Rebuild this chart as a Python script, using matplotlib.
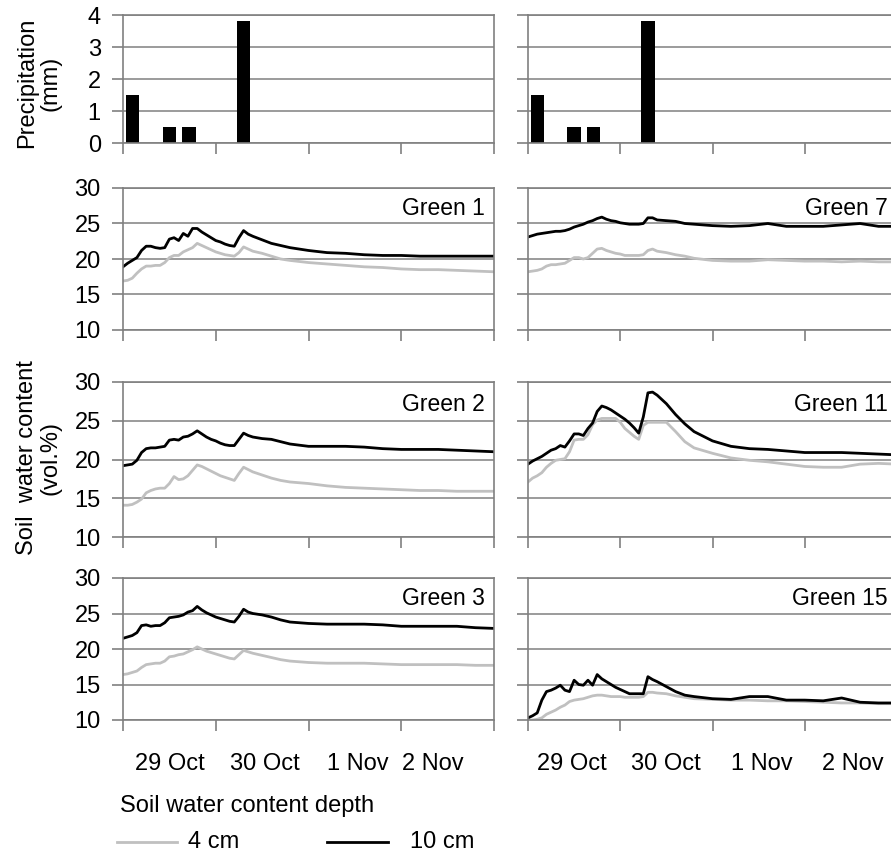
import matplotlib
matplotlib.use("Agg")
import matplotlib.pyplot as plt
from matplotlib.lines import Line2D

plt.rcParams['font.family'] = ['Liberation Sans', 'DejaVu Sans']
plt.rcParams['font.size'] = 17

# time axis in chart units (one major tick interval = 1)
t = [0, 0.05, 0.1, 0.15, 0.2, 0.25, 0.3, 0.35, 0.4, 0.45, 0.5, 0.55, 0.6, 0.65,
     0.7, 0.75, 0.8, 0.85, 0.9, 0.95, 1.0, 1.05, 1.1, 1.15, 1.2, 1.25, 1.3, 1.35,
     1.4, 1.5, 1.6, 1.7, 1.8, 2.0, 2.2, 2.4, 2.6, 2.8, 3.0, 3.2, 3.4, 3.6, 3.8, 4.0]

# precipitation (mm)
rain_t = [0.10, 0.50, 0.71, 1.30]
rain_mm = [1.5, 0.5, 0.5, 3.8]

# soil water content (vol.%), 4 cm and 10 cm depth
g1_4 = [16.9, 17.0, 17.3, 18.0, 18.6, 19.0, 19.0, 19.1, 19.1, 19.5, 20.2, 20.5, 20.5, 21.0,
        21.3, 21.6, 22.2, 21.9, 21.6, 21.3, 21.0, 20.8, 20.6, 20.5, 20.4, 20.9, 21.7, 21.4,
        21.1, 20.8, 20.4, 20.0, 19.8, 19.5, 19.3, 19.1, 18.9, 18.8, 18.6, 18.5, 18.5, 18.4, 18.3, 18.2]
g1_10 = [18.9, 19.4, 19.8, 20.2, 21.2, 21.8, 21.8, 21.6, 21.5, 21.6, 22.8, 23.0, 22.6, 23.6,
         23.2, 24.3, 24.3, 23.8, 23.4, 23.0, 22.6, 22.4, 22.1, 21.9, 21.8, 23.0, 24.0, 23.5,
         23.2, 22.7, 22.2, 21.9, 21.6, 21.2, 20.9, 20.8, 20.6, 20.5, 20.5, 20.4, 20.4, 20.4, 20.4, 20.4]

g2_4 = [14.1, 14.1, 14.2, 14.5, 14.9, 15.7, 16.0, 16.2, 16.3, 16.3, 16.9, 17.8, 17.4, 17.5,
        17.9, 18.6, 19.3, 19.1, 18.8, 18.5, 18.2, 17.9, 17.7, 17.5, 17.3, 18.2, 19.0, 18.7,
        18.4, 18.0, 17.6, 17.3, 17.1, 16.9, 16.6, 16.4, 16.3, 16.2, 16.1, 16.0, 16.0, 15.9, 15.9, 15.9]
g2_10 = [19.2, 19.3, 19.4, 19.9, 20.9, 21.4, 21.5, 21.5, 21.6, 21.7, 22.5, 22.6, 22.5, 22.9,
         23.0, 23.3, 23.7, 23.3, 22.9, 22.6, 22.4, 22.1, 21.9, 21.8, 21.8, 22.6, 23.4, 23.1,
         22.9, 22.7, 22.6, 22.3, 22.0, 21.7, 21.7, 21.7, 21.6, 21.4, 21.3, 21.3, 21.3, 21.2, 21.1, 21.0]

g3_4 = [16.4, 16.5, 16.7, 16.9, 17.4, 17.8, 17.9, 18.0, 18.0, 18.3, 18.9, 19.0, 19.2, 19.3,
        19.6, 19.9, 20.3, 20.0, 19.7, 19.5, 19.3, 19.1, 18.9, 18.7, 18.6, 19.2, 19.8, 19.6,
        19.4, 19.1, 18.8, 18.5, 18.3, 18.1, 18.0, 18.0, 18.0, 17.9, 17.8, 17.8, 17.8, 17.8, 17.7, 17.7]
g3_10 = [21.5, 21.7, 21.9, 22.3, 23.3, 23.4, 23.2, 23.3, 23.3, 23.7, 24.4, 24.5, 24.6, 24.8,
         25.2, 25.4, 26.0, 25.5, 25.1, 24.8, 24.5, 24.3, 24.1, 23.9, 23.8, 24.6, 25.6, 25.2,
         25.0, 24.8, 24.5, 24.1, 23.8, 23.6, 23.5, 23.5, 23.5, 23.4, 23.2, 23.2, 23.2, 23.2, 23.0, 22.9]

g7_4 = [18.2, 18.3, 18.4, 18.6, 19.0, 19.2, 19.2, 19.3, 19.4, 19.8, 20.2, 20.2, 20.0, 20.2,
        20.8, 21.4, 21.5, 21.2, 21.0, 20.8, 20.7, 20.5, 20.5, 20.5, 20.5, 20.6, 21.2, 21.4,
        21.1, 20.9, 20.6, 20.4, 20.1, 19.8, 19.7, 19.7, 19.9, 19.8, 19.7, 19.7, 19.6, 19.7, 19.6, 19.6]
g7_10 = [23.1, 23.3, 23.5, 23.6, 23.7, 23.8, 23.9, 23.9, 24.0, 24.2, 24.5, 24.7, 24.9, 25.2,
         25.4, 25.7, 25.9, 25.6, 25.4, 25.3, 25.1, 25.0, 24.9, 24.9, 24.9, 25.0, 25.8, 25.8,
         25.5, 25.4, 25.3, 25.0, 24.9, 24.7, 24.6, 24.7, 25.0, 24.6, 24.6, 24.6, 24.8, 25.0, 24.6, 24.6]

g11_4 = [17.1, 17.6, 17.9, 18.3, 19.0, 19.5, 19.9, 20.0, 20.1, 21.0, 22.5, 22.6, 22.6, 23.2,
         24.5, 25.1, 25.3, 25.3, 25.3, 25.3, 24.8, 24.0, 23.5, 23.0, 22.6, 24.4, 24.8, 24.8,
         24.8, 24.8, 23.6, 22.3, 21.5, 20.8, 20.2, 19.9, 19.7, 19.4, 19.1, 19.0, 19.0, 19.4, 19.5, 19.4]
g11_10 = [19.4, 19.8, 20.1, 20.4, 20.8, 21.2, 21.4, 21.8, 21.6, 22.4, 23.3, 23.3, 23.1, 24.0,
          24.7, 26.2, 26.9, 26.7, 26.4, 26.0, 25.6, 25.2, 24.7, 24.1, 23.4, 25.5, 28.6, 28.7,
          28.3, 27.2, 25.8, 24.6, 23.6, 22.4, 21.7, 21.4, 21.3, 21.1, 20.9, 20.9, 20.9, 20.8, 20.7, 20.6]

g15_4 = [10.0, 10.0, 10.1, 10.3, 10.8, 11.1, 11.4, 11.8, 12.1, 12.6, 12.8, 12.9, 13.0, 13.2,
         13.4, 13.5, 13.5, 13.4, 13.3, 13.3, 13.3, 13.2, 13.2, 13.2, 13.2, 13.3, 13.9, 13.9,
         13.8, 13.7, 13.4, 13.2, 13.0, 12.9, 12.8, 12.8, 12.7, 12.7, 12.6, 12.5, 12.4, 12.4, 12.3, 12.3]
g15_10 = [10.3, 10.6, 11.0, 12.8, 14.0, 14.2, 14.5, 14.9, 14.2, 14.0, 15.6, 15.0, 14.9, 15.6,
          14.9, 16.4, 15.8, 15.4, 15.0, 14.6, 14.3, 14.0, 13.7, 13.7, 13.7, 13.7, 16.1, 15.7,
          15.4, 14.7, 14.0, 13.5, 13.3, 13.0, 12.9, 13.3, 13.3, 12.8, 12.8, 12.7, 13.1, 12.5, 12.4, 12.4]

names = [["Green 1", "Green 2", "Green 3"], ["Green 7", "Green 11", "Green 15"]]
shallow = [[g1_4, g2_4, g3_4], [g7_4, g11_4, g15_4]]
deep = [[g1_10, g2_10, g3_10], [g7_10, g11_10, g15_10]]

date_labels = ["29 Oct", "30 Oct", "1 Nov", "2 Nov"]
date_pos = [[0.51, 1.53, 2.53, 3.34], [0.48, 1.49, 2.53, 3.52]]

W, H = 891, 852
fig = plt.figure(figsize=(W / 100, H / 100), dpi=100)

col_x = [(123, 371), (528, 369)]
rows = [(15, 143), (188, 330), (382, 537), (578, 720)]
GREY = '#808080'
LIGHT = '#c0c0c0'


def make_ax(col, row):
    x0, w = col_x[col]
    top, bot = rows[row]
    ax = fig.add_axes([x0 / W, 1 - bot / H, w / W, (bot - top) / H])
    for s in ax.spines.values():
        s.set_color(GREY)
        s.set_linewidth(1.2)
    ax.tick_params(axis='both', which='major', color=GREY, width=1.2,
                   length=8, direction='out', pad=8)
    ax.set_xlim(0, 4)
    ax.set_xticks([0, 1, 2, 3, 4])
    ax.set_xticklabels([])
    ax.grid(axis='y', color=GREY, linewidth=1.1)
    ax.set_axisbelow(True)
    return ax


for c in range(2):
    ax = make_ax(c, 0)
    ax.bar(rain_t, rain_mm, width=0.145, color='black', align='center')
    ax.set_ylim(0, 4)
    ax.set_yticks([0, 1, 2, 3, 4])
    if c == 1:
        ax.set_yticklabels([])
    for r in range(3):
        ax = make_ax(c, r + 1)
        ax.plot(t, shallow[c][r], color=LIGHT, linewidth=2.0)
        ax.plot(t, deep[c][r], color='black', linewidth=2.0)
        ax.set_ylim(10, 30)
        ax.set_yticks([10, 15, 20, 25, 30])
        if c == 1:
            ax.set_yticklabels([])
        ax.text(3.9, 27.1, names[c][r], ha='right', va='center', fontsize=16.5)
        if r == 2:
            ax.set_xticks(date_pos[c], date_labels, minor=True)
            ax.tick_params(axis='x', which='minor', length=0, pad=24)

fig.text(39 / W, 1 - 83 / H, "Precipitation\n(mm)", rotation=90,
         ha='center', va='center', linespacing=1.1)
fig.text(39 / W, 1 - 458 / H, "Soil  water content\n(vol.%)", rotation=90,
         ha='center', va='center', linespacing=1.1)

# legend
fig.text(120 / W, 1 - 806 / H, "Soil water content depth", ha='left', va='center')
fig.add_artist(Line2D([117 / W, 177 / W], [1 - 842 / H, 1 - 842 / H],
                      color=LIGHT, linewidth=2.0))
fig.text(188 / W, 1 - 842 / H, "4 cm", ha='left', va='center')
fig.add_artist(Line2D([327 / W, 388 / W], [1 - 842 / H, 1 - 842 / H],
                      color='black', linewidth=2.0))
fig.text(410 / W, 1 - 842 / H, "10 cm", ha='left', va='center')

fig.savefig("out.png", dpi=100)
